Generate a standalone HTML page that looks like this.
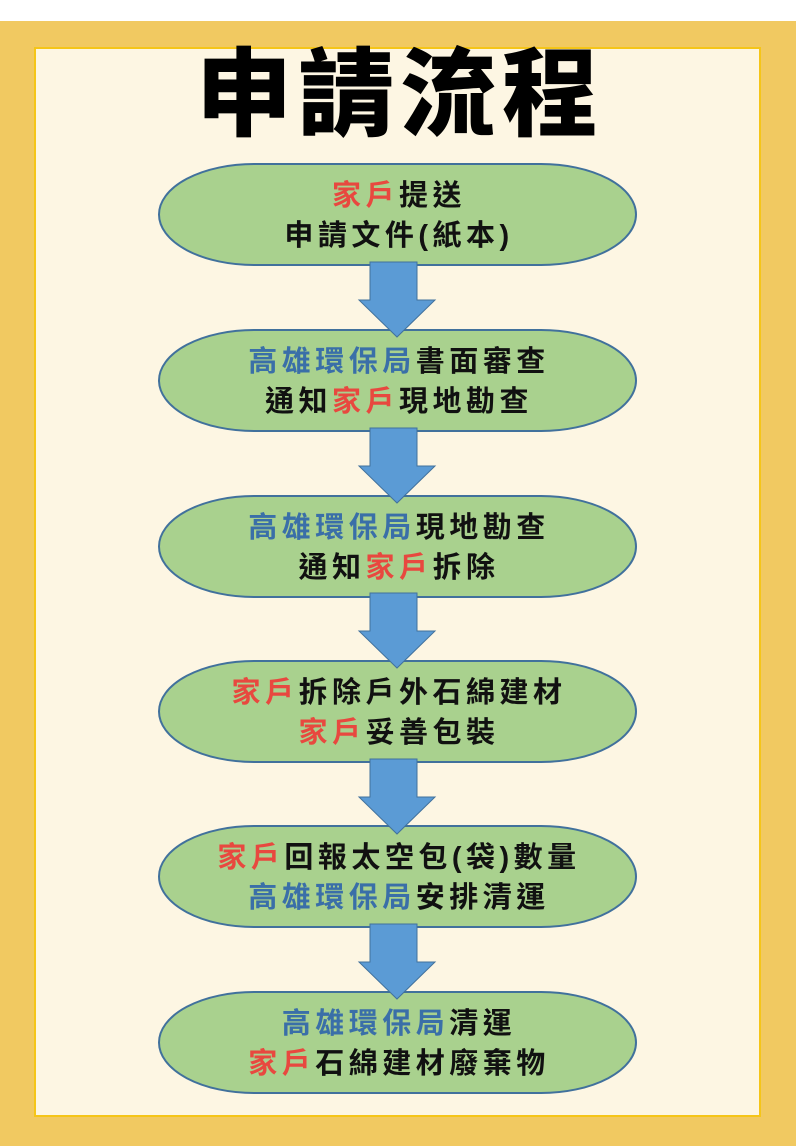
<!DOCTYPE html>
<html><head><meta charset="utf-8"><style>
html,body{margin:0;padding:0;background:#fff;}
svg{display:block;}
text{font-family:"Liberation Sans","Noto Sans CJK TC",sans-serif;font-weight:bold;}
</style></head><body>
<svg width="796" height="1146" viewBox="0 0 796 1146" xmlns="http://www.w3.org/2000/svg">
<rect x="0" y="0" width="796" height="21" fill="#fff"/>
<rect x="0" y="21" width="796" height="1125" fill="#F1C961"/>
<rect x="35" y="48" width="725" height="1068" fill="#FDF6E3" stroke="#F5C518" stroke-width="2"/>
<text x="400" y="128" font-size="96" text-anchor="middle" fill="#000" letter-spacing="6" style="font-weight:900">申請流程</text>
<g fill="#A9D18E" stroke="#41719C" stroke-width="2">
<rect x="159" y="164" width="477" height="101" rx="95" ry="50.5"/>
<rect x="159" y="330" width="477" height="101" rx="95" ry="50.5"/>
<rect x="159" y="496" width="477" height="101" rx="95" ry="50.5"/>
<rect x="159" y="661" width="477" height="101" rx="95" ry="50.5"/>
<rect x="159" y="826" width="477" height="101" rx="95" ry="50.5"/>
<rect x="159" y="992" width="477" height="101" rx="95" ry="50.5"/>
</g>
<g fill="#5B9BD5" stroke="#41719C" stroke-width="1">
<path d="M370 262 H417 V300 H435 L397 337 L359 300 H370 Z"/>
<path d="M370 428 H417 V466 H435 L397 503 L359 466 H370 Z"/>
<path d="M370 593 H417 V631 H435 L397 668 L359 631 H370 Z"/>
<path d="M370 759 H417 V797 H435 L397 834 L359 797 H370 Z"/>
<path d="M370 924 H417 V962 H435 L397 999 L359 962 H370 Z"/>
</g>
<g font-size="29" text-anchor="middle" fill="#111" letter-spacing="4.5">
<text x="399" y="205"><tspan fill="#E8483F">家戶</tspan>提送</text>
<text x="399" y="245">申請文件(紙本)</text>
<text x="399" y="371"><tspan fill="#3A6FA8">高雄環保局</tspan>書面審查</text>
<text x="399" y="411">通知<tspan fill="#E8483F">家戶</tspan>現地勘查</text>
<text x="399" y="537"><tspan fill="#3A6FA8">高雄環保局</tspan>現地勘查</text>
<text x="399" y="577">通知<tspan fill="#E8483F">家戶</tspan>拆除</text>
<text x="399" y="702"><tspan fill="#E8483F">家戶</tspan>拆除戶外石綿建材</text>
<text x="399" y="742"><tspan fill="#E8483F">家戶</tspan>妥善包裝</text>
<text x="399" y="867"><tspan fill="#E8483F">家戶</tspan>回報太空包(袋)數量</text>
<text x="399" y="907"><tspan fill="#3A6FA8">高雄環保局</tspan>安排清運</text>
<text x="399" y="1033"><tspan fill="#3A6FA8">高雄環保局</tspan>清運</text>
<text x="399" y="1073"><tspan fill="#E8483F">家戶</tspan>石綿建材廢棄物</text>
</g>
</svg>
</body></html>
